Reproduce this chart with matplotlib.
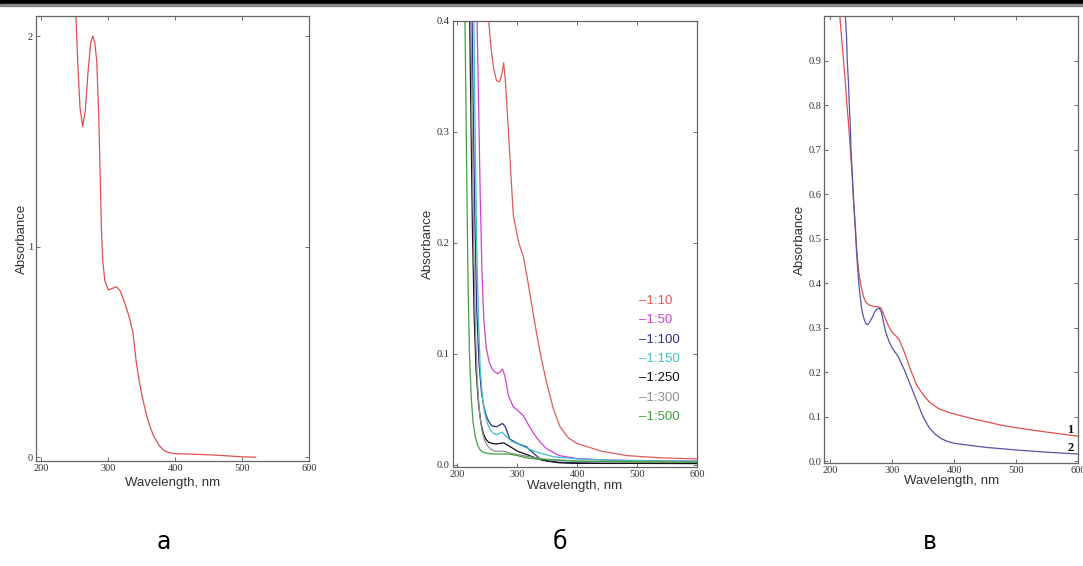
import matplotlib.pyplot as plt
from matplotlib.patches import Rectangle

# panel a: single spectrum
wl_a = [250, 252, 255, 258, 262, 266, 270, 274, 277, 280, 283, 286, 288, 290, 292, 295,
        300, 305, 312, 318, 325, 332, 337, 342, 347, 352, 358, 363, 368, 375, 382, 390,
        400, 430, 460, 480, 500, 520]
abs_a = [2.15, 2.09, 1.85, 1.66, 1.57, 1.65, 1.83, 1.97, 2.0, 1.97, 1.88, 1.62, 1.35, 1.08,
         0.93, 0.84, 0.795, 0.80, 0.81, 0.79, 0.73, 0.66, 0.59, 0.45, 0.35, 0.27, 0.19, 0.14,
         0.10, 0.06, 0.035, 0.022, 0.017, 0.014, 0.010, 0.006, 0.002, 0.0]

# panel b: dilution series
dil_labels = ['1:10', '1:50', '1:100', '1:150', '1:250', '1:300', '1:500']
dil_colors = ['#e05a5a', '#d040d0', '#303090', '#40c0c8', '#111111', '#909090', '#40a040']
dil_wl = [
    [250, 252, 256, 260, 265, 270, 274, 277, 280, 285, 293, 302, 310, 318, 325, 332, 340,
     349, 360, 371, 385, 399, 440, 483, 540, 600],
    [232, 235, 238, 241, 244, 248, 253, 258, 263, 268, 272, 275, 279, 285, 293, 302, 310,
     318, 327, 338, 349, 370, 399, 450, 500, 600],
    [224, 226, 229, 232, 236, 240, 244, 248, 252, 257, 265, 275, 280, 287, 300, 315, 327,
     338, 350, 370, 400, 450, 500, 600],
    [227, 229, 232, 235, 238, 242, 246, 250, 255, 260, 265, 275, 280, 290, 303, 315, 328,
     340, 360, 400, 450, 500, 600],
    [220, 222, 225, 228, 231, 235, 239, 243, 247, 252, 258, 265, 270, 277, 285, 300, 320,
     340, 370, 400, 450, 500, 600],
    [222, 224, 227, 230, 233, 237, 241, 245, 250, 255, 262, 270, 277, 290, 300, 320, 340,
     370, 400, 450, 500, 600],
    [212, 214, 216, 218, 220, 223, 226, 230, 234, 238, 243, 250, 260, 270, 280, 290, 300,
     315, 330, 360, 400, 450, 500, 600],
]
dil_abs = [
    [0.42, 0.40, 0.375, 0.358, 0.346, 0.345, 0.352, 0.362, 0.345, 0.30, 0.225, 0.200, 0.187,
     0.163, 0.140, 0.118, 0.095, 0.073, 0.050, 0.034, 0.024, 0.019, 0.012, 0.008, 0.006, 0.005],
    [0.42, 0.33, 0.24, 0.17, 0.13, 0.105, 0.092, 0.086, 0.083, 0.082, 0.084, 0.086, 0.080,
     0.062, 0.052, 0.048, 0.044, 0.036, 0.028, 0.020, 0.014, 0.008, 0.0054, 0.004, 0.0035, 0.003],
    [0.42, 0.33, 0.22, 0.14, 0.09, 0.065, 0.052, 0.044, 0.039, 0.035, 0.034, 0.037, 0.034,
     0.023, 0.019, 0.016, 0.010, 0.005, 0.003, 0.002, 0.0015, 0.001, 0.001, 0.0008],
    [0.42, 0.32, 0.20, 0.13, 0.085, 0.058, 0.045, 0.037, 0.031, 0.028, 0.027, 0.029, 0.026,
     0.021, 0.018, 0.015, 0.012, 0.010, 0.007, 0.005, 0.004, 0.0035, 0.003],
    [0.42, 0.33, 0.21, 0.13, 0.085, 0.055, 0.038, 0.028, 0.023, 0.020, 0.019, 0.0185, 0.019,
     0.0195, 0.017, 0.012, 0.008, 0.004, 0.0015, 0.001, 0.001, 0.001, 0.001],
    [0.42, 0.32, 0.20, 0.12, 0.075, 0.045, 0.030, 0.022, 0.017, 0.014, 0.012, 0.012, 0.012,
     0.010, 0.009, 0.007, 0.005, 0.004, 0.003, 0.0025, 0.002, 0.002],
    [0.42, 0.33, 0.23, 0.15, 0.10, 0.06, 0.038, 0.024, 0.017, 0.013, 0.011, 0.010, 0.0095,
     0.0095, 0.0095, 0.009, 0.008, 0.006, 0.005, 0.004, 0.003, 0.0028, 0.0025, 0.002],
]

# panel c: two spectra
wl_c1 = [214, 216, 219, 222, 225, 227, 230, 233, 236, 238, 241, 243, 246, 250, 254, 258,
         264, 270, 276, 282, 288, 294, 300, 306, 312, 320, 330, 340, 350, 360, 375, 390,
         400, 425, 450, 475, 500, 550, 600]
abs_c1 = [1.05, 1.0, 0.95, 0.9, 0.85, 0.81, 0.76, 0.70, 0.64, 0.59, 0.53, 0.48, 0.43, 0.395,
          0.37, 0.357, 0.35, 0.348, 0.347, 0.345, 0.325, 0.305, 0.29, 0.282, 0.272, 0.245,
          0.205, 0.17, 0.15, 0.133, 0.118, 0.11, 0.106, 0.097, 0.089, 0.081, 0.075, 0.065, 0.056]
wl_c2 = [223, 225, 227, 228, 230, 231, 233, 234, 236, 238, 241, 243, 246, 248, 251, 253,
         256, 259, 262, 265, 269, 272, 276, 280, 283, 286, 290, 295, 300, 305, 310, 320, 330,
         340, 350, 360, 370, 380, 390, 400, 450, 500, 550, 600]
abs_c2 = [1.05, 1.0, 0.95, 0.9, 0.85, 0.81, 0.75, 0.70, 0.65, 0.59, 0.52, 0.47, 0.41, 0.38,
          0.345, 0.33, 0.315, 0.307, 0.308, 0.315, 0.325, 0.335, 0.342, 0.343, 0.335, 0.315,
          0.29, 0.27, 0.255, 0.245, 0.235, 0.205, 0.17, 0.135, 0.10, 0.075, 0.06, 0.05, 0.044,
          0.04, 0.031, 0.025, 0.02, 0.016]

tick_font = dict(family='Liberation Serif', size=7.5, color='#333333')
label_font = dict(family='Liberation Sans', size=9.5, color='#333333')

fig = plt.figure(figsize=(10.83, 5.66), dpi=100)

# page border at the top
fig.patches.append(Rectangle((0, 1 - 4 / 566), 1, 4 / 566, transform=fig.transFigure,
                             color='black', zorder=10))
fig.patches.append(Rectangle((0, 1 - 6 / 566), 1, 2 / 566, transform=fig.transFigure,
                             color='#888888', zorder=10))

ax_a = fig.add_axes([0.033, 0.1855, 0.2526, 0.786])
ax_b = fig.add_axes([0.418, 0.1754, 0.2259, 0.788])
ax_c = fig.add_axes([0.7611, 0.1814, 0.2345, 0.790])


def style(ax, xlim, ylim, yticks, ylabels, xpad=1, ypad=2):
    ax.set_xlim(*xlim)
    ax.set_ylim(*ylim)
    ax.set_xticks([200, 300, 400, 500, 600])
    ax.set_xticklabels(['200', '300', '400', '500', '600'], fontdict=tick_font)
    ax.set_yticks(yticks)
    ax.set_yticklabels(ylabels, fontdict=tick_font)
    ax.tick_params(direction='in', top=True, right=True, length=3, width=0.6,
                   color='#555555', pad=2)
    for s in ax.spines.values():
        s.set_color('#666666')
        s.set_linewidth(0.9)
    ax.set_xlabel('Wavelength, nm', fontdict=label_font, labelpad=xpad)
    ax.set_ylabel('Absorbance', fontdict=label_font, labelpad=ypad)


ax_a.plot(wl_a, abs_a, color='#e05050', lw=0.9)
style(ax_a, (192, 600), (-0.018, 2.095), [0, 1, 2], ['0', '1', '2'], xpad=3, ypad=0)

for wl, ab, c in zip(dil_wl, dil_abs, dil_colors):
    ax_b.plot(wl, ab, color=c, lw=0.9)
style(ax_b, (192, 600), (-0.002, 0.4), [0, 0.1, 0.2, 0.3, 0.4],
      ['0.0', '0.1', '0.2', '0.3', '0.4'], xpad=1)
for i, (lab, c) in enumerate(zip(dil_labels, dil_colors)):
    ax_b.text(0.76, 0.3715 - i * 0.0434, '\u2013' + lab, transform=ax_b.transAxes,
              color=c, fontsize=9.5, family='Liberation Sans', va='center', ha='left')

ax_c.plot(wl_c1, abs_c1, color='#e05050', lw=0.9)
ax_c.plot(wl_c2, abs_c2, color='#5555aa', lw=0.9)
style(ax_c, (191, 600), (-0.005, 1.0), [0, 0.1, 0.2, 0.3, 0.4, 0.5, 0.6, 0.7, 0.8, 0.9],
      ['0.0', '0.1', '0.2', '0.3', '0.4', '0.5', '0.6', '0.7', '0.8', '0.9'], xpad=0)
ax_c.text(587, 0.07, '1', fontsize=9, fontweight='bold', family='Liberation Serif',
          ha='center', va='center')
ax_c.text(587, 0.029, '2', fontsize=9, fontweight='bold', family='Liberation Serif',
          ha='center', va='center')

# panel letters
for x, t in [(164 / 1083, '\u0430'), (560 / 1083, '\u0431'), (930 / 1083, '\u0432')]:
    fig.text(x, 1 - 542 / 566, t, fontsize=17, family='DejaVu Sans', ha='center',
             va='center')

fig.savefig('out.png', dpi=100)
